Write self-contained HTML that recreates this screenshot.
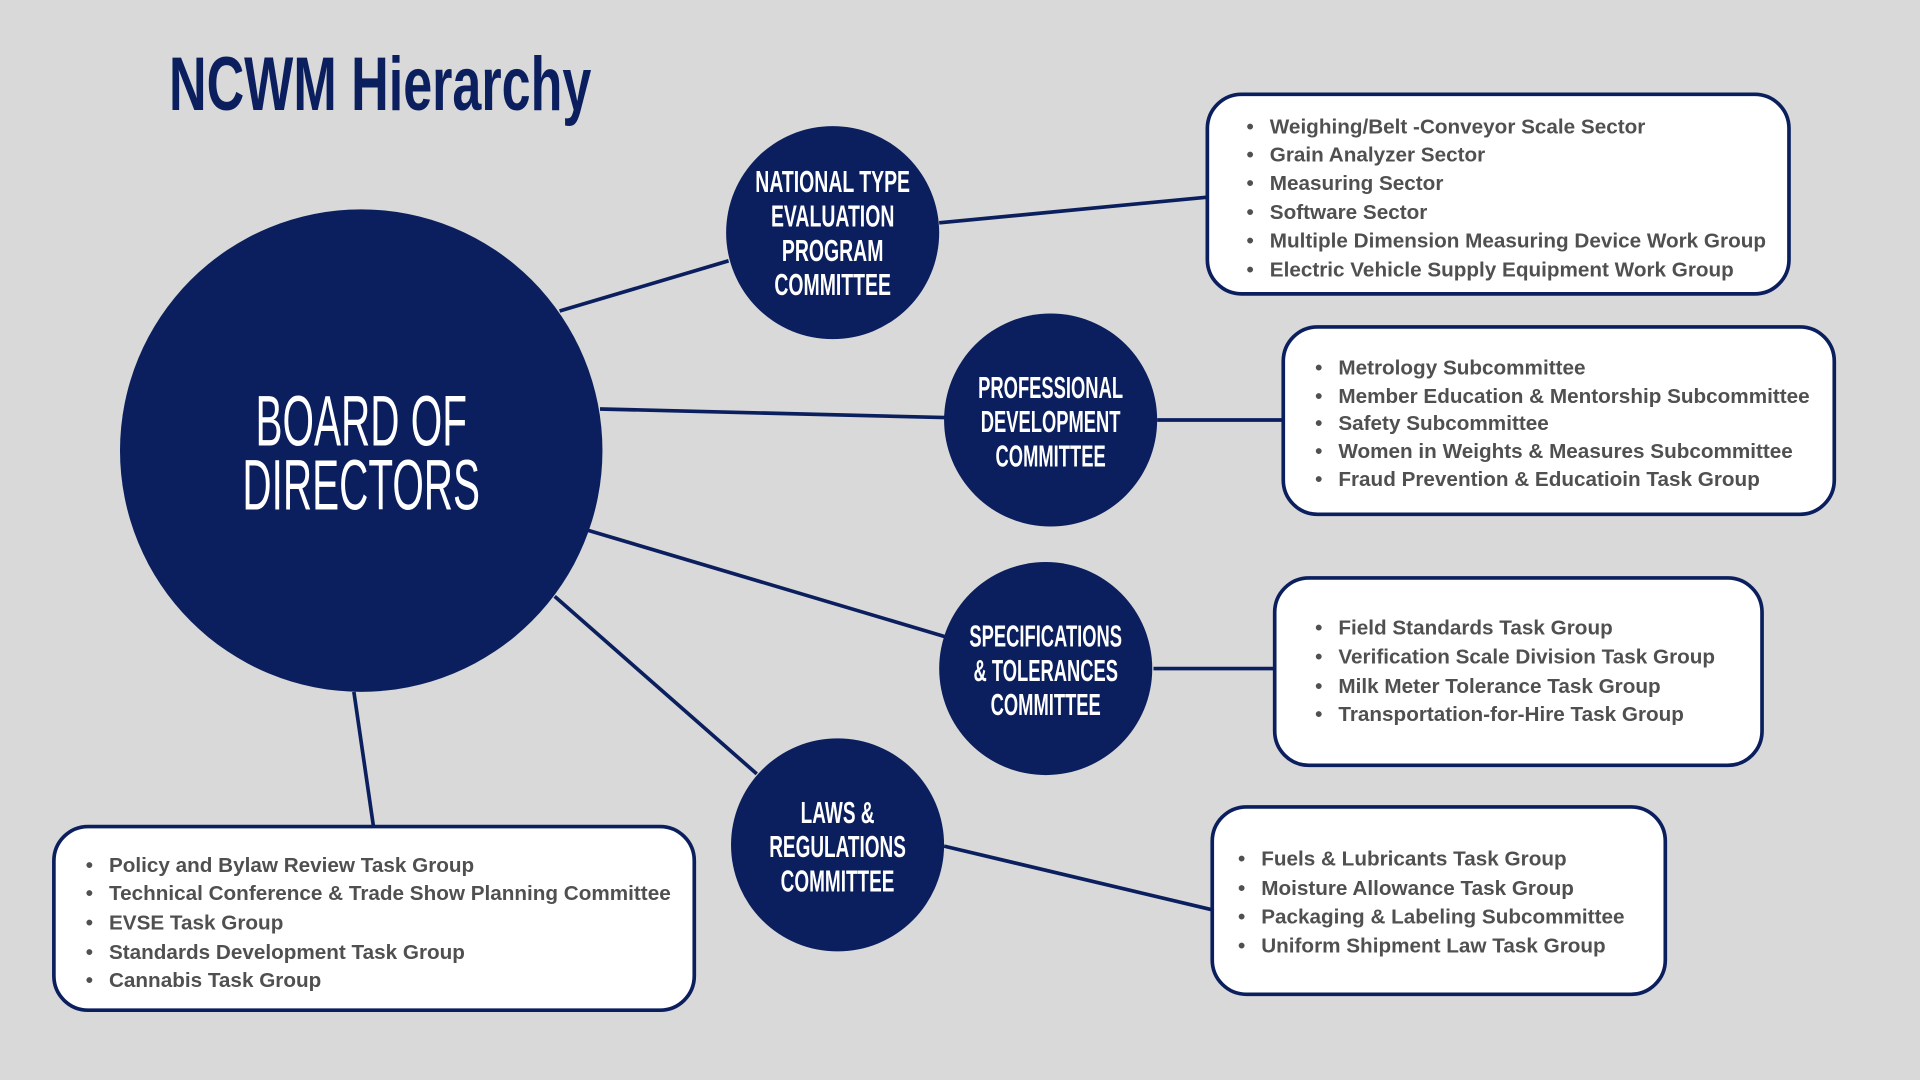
<!DOCTYPE html>
<html><head><meta charset="utf-8"><style>
html,body{margin:0;padding:0;background:#d9d9d9;}
svg{display:block}
.it{font-family:"Liberation Sans",sans-serif;font-weight:bold;font-size:16.9px;fill:#505050;}
.ct{font-family:"Liberation Sans",sans-serif;font-weight:bold;font-size:25px;fill:#fff;}
</style></head><body>
<svg width="1920" height="1080" viewBox="0 0 1568 882" xmlns="http://www.w3.org/2000/svg">
<rect width="1568" height="882" fill="#d9d9d9"/>
<g transform="translate(138,90) scale(0.686,1)"><text x="0" y="0" font-family="Liberation Sans,sans-serif" font-weight="bold" font-size="62" fill="#0b1f5e">NCWM Hierarchy</text></g>
<g stroke="#0b1f5e" stroke-width="3">
<line x1="457" y1="254" x2="595" y2="213"/>
<line x1="490" y1="334" x2="772" y2="341"/>
<line x1="480" y1="433" x2="772" y2="520"/>
<line x1="453" y1="487" x2="618" y2="632"/>
<line x1="289" y1="565" x2="305" y2="675"/>
<line x1="767" y1="182" x2="986" y2="161"/>
<line x1="945" y1="343" x2="1048" y2="343"/>
<line x1="942" y1="546" x2="1041" y2="546"/>
<line x1="771" y1="691" x2="990" y2="743"/>
</g>
<g fill="#0b1f5e">
<circle cx="295" cy="368" r="197"/>
<circle cx="680" cy="190" r="87"/>
<circle cx="858" cy="343" r="87"/>
<circle cx="854" cy="546" r="87"/>
<circle cx="684" cy="690" r="87"/>
</g>
<g fill="#fff" stroke="#0b1f5e" stroke-width="3">
<rect x="986" y="77" width="475" height="163" rx="28"/>
<rect x="1048" y="267" width="450" height="153" rx="28"/>
<rect x="1041" y="472" width="398" height="153" rx="28"/>
<rect x="990" y="659" width="370" height="153" rx="28"/>
<rect x="44" y="675" width="523" height="150" rx="28"/>
</g>
<g transform="translate(295,0) scale(0.57,1)" font-family="Liberation Sans,sans-serif" font-size="58" fill="#fff" text-anchor="middle">
<text x="0" y="364">BOARD OF</text><text x="0" y="416">DIRECTORS</text></g>
<g transform="translate(680,0) scale(0.635,1)" text-anchor="middle">
<text class="ct" x="0" y="157">NATIONAL TYPE</text><text class="ct" x="0" y="185">EVALUATION</text><text class="ct" x="0" y="213">PROGRAM</text><text class="ct" x="0" y="241">COMMITTEE</text></g>
<g transform="translate(858,0) scale(0.6,1)" text-anchor="middle">
<text class="ct" x="0" y="325">PROFESSIONAL</text><text class="ct" x="0" y="353">DEVELOPMENT</text><text class="ct" x="0" y="381">COMMITTEE</text></g>
<g transform="translate(854,0) scale(0.6,1)" text-anchor="middle">
<text class="ct" x="0" y="528">SPECIFICATIONS</text><text class="ct" x="0" y="556">&amp; TOLERANCES</text><text class="ct" x="0" y="584">COMMITTEE</text></g>
<g transform="translate(684,0) scale(0.62,1)" text-anchor="middle">
<text class="ct" x="0" y="672">LAWS &amp;</text><text class="ct" x="0" y="700">REGULATIONS</text><text class="ct" x="0" y="728">COMMITTEE</text></g>
<g class="it">
<text class="it" x="1018" y="109">•</text><text class="it" x="1037" y="109">Weighing/Belt -Conveyor Scale Sector</text>
<text class="it" x="1018" y="132">•</text><text class="it" x="1037" y="132">Grain Analyzer Sector</text>
<text class="it" x="1018" y="155">•</text><text class="it" x="1037" y="155">Measuring Sector</text>
<text class="it" x="1018" y="179">•</text><text class="it" x="1037" y="179">Software Sector</text>
<text class="it" x="1018" y="202">•</text><text class="it" x="1037" y="202">Multiple Dimension Measuring Device Work Group</text>
<text class="it" x="1018" y="226">•</text><text class="it" x="1037" y="226">Electric Vehicle Supply Equipment Work Group</text>
<text class="it" x="1074" y="306">•</text><text class="it" x="1093" y="306">Metrology Subcommittee</text>
<text class="it" x="1074" y="329">•</text><text class="it" x="1093" y="329">Member Education &amp; Mentorship Subcommittee</text>
<text class="it" x="1074" y="351">•</text><text class="it" x="1093" y="351">Safety Subcommittee</text>
<text class="it" x="1074" y="374">•</text><text class="it" x="1093" y="374">Women in Weights &amp; Measures Subcommittee</text>
<text class="it" x="1074" y="397">•</text><text class="it" x="1093" y="397">Fraud Prevention &amp; Educatioin Task Group</text>
<text class="it" x="1074" y="518">•</text><text class="it" x="1093" y="518">Field Standards Task Group</text>
<text class="it" x="1074" y="542">•</text><text class="it" x="1093" y="542">Verification Scale Division Task Group</text>
<text class="it" x="1074" y="566">•</text><text class="it" x="1093" y="566">Milk Meter Tolerance Task Group</text>
<text class="it" x="1074" y="589">•</text><text class="it" x="1093" y="589">Transportation-for-Hire Task Group</text>
<text class="it" x="1011" y="707">•</text><text class="it" x="1030" y="707">Fuels &amp; Lubricants Task Group</text>
<text class="it" x="1011" y="731">•</text><text class="it" x="1030" y="731">Moisture Allowance Task Group</text>
<text class="it" x="1011" y="754">•</text><text class="it" x="1030" y="754">Packaging &amp; Labeling Subcommittee</text>
<text class="it" x="1011" y="778">•</text><text class="it" x="1030" y="778">Uniform Shipment Law Task Group</text>
<text class="it" x="70" y="712">•</text><text class="it" x="89" y="712">Policy and Bylaw Review Task Group</text>
<text class="it" x="70" y="735">•</text><text class="it" x="89" y="735">Technical Conference &amp; Trade Show Planning Committee</text>
<text class="it" x="70" y="759">•</text><text class="it" x="89" y="759">EVSE Task Group</text>
<text class="it" x="70" y="783">•</text><text class="it" x="89" y="783">Standards Development Task Group</text>
<text class="it" x="70" y="806">•</text><text class="it" x="89" y="806">Cannabis Task Group</text>
</g>
</svg>
</body></html>
